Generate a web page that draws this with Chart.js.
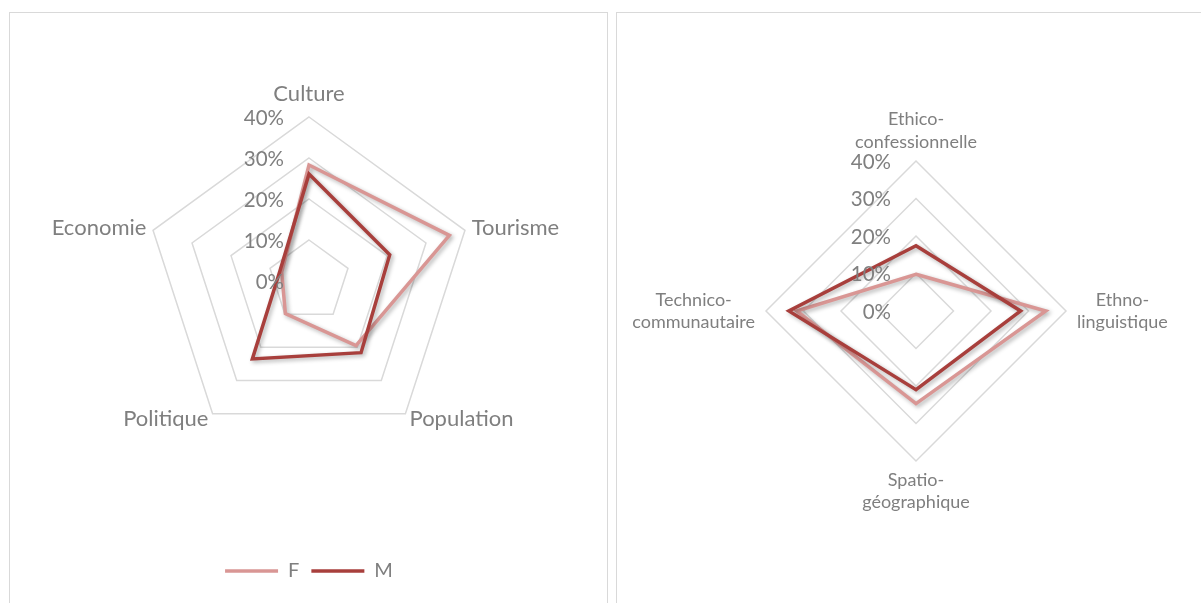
<!DOCTYPE html>
<html>
<head>
<meta charset="utf-8">
<script src="https://cdn.jsdelivr.net/npm/chart.js@4.4.0/dist/chart.umd.min.js"></script>
<style>
  html, body { margin: 0; padding: 0; background: #fff; overflow: hidden; }
  body { width: 1201px; height: 603px; position: relative; }
  .panel { position: absolute; border: 1px solid #d9d9d9; box-sizing: border-box; }
  .box { position: absolute; }
</style>
</head>
<body>
<div class="panel" style="left:9px; top:12px; width:599px; height:640px;"></div>
<div class="panel" style="left:616px; top:12px; width:640px; height:640px;"></div>
<div class="box" style="left:0; top:0; width:610px; height:603px;"><canvas id="left"></canvas></div>
<div class="box" style="left:610px; top:0; width:591px; height:603px;"><canvas id="right"></canvas></div>

<script>
// left chart: themes
const themes = ['Culture', 'Tourisme', 'Population', 'Politique', 'Economie'];
const themeF = [28.3, 36, 19.5, 9.8, 7];
const themeM = [26.1, 20.7, 21.6, 23.5, 7.5];

// right chart: dimensions (two-line labels)
const dimensions = [['Ethico-', 'confessionnelle'], ['Ethno-', 'linguistique'], ['Spatio-', 'géographique'], ['Technico-', 'communautaire']];
const dimensionF = [9.8, 34.6, 24.7, 31.8];
const dimensionM = [17.4, 27.9, 21, 33.9];

const tickValues = [0, 10, 20, 30, 40];
const seriesNames = ['F', 'M'];
const colorF = '#d99694';
const colorM = '#a83f3c';

Chart.defaults.font.family = 'Lato';
Chart.defaults.color = '#7f7f7f';

// Excel-like look: shadowed lines, tick labels left of the axis, labels beside the vertices
const excelRadar = {
  id: 'excelRadar',
  beforeDatasetDraw(chart) {
    const c = chart.ctx;
    c.save();
    c.shadowColor = 'rgba(0,0,0,0.3)';
    c.shadowBlur = 4;
    c.shadowOffsetX = 2;
    c.shadowOffsetY = 2;
  },
  afterDatasetDraw(chart) {
    chart.ctx.restore();
  },
  afterDraw(chart, args, opts) {
    const scale = chart.scales.r;
    const ctx = chart.ctx;
    ctx.save();
    ctx.fillStyle = '#7f7f7f';

    ctx.font = opts.tickFont;
    ctx.textAlign = 'right';
    ctx.textBaseline = 'middle';
    scale.ticks.forEach(t => {
      const d = scale.getDistanceFromCenterForValue(t.value);
      ctx.fillText(t.value + '%', scale.xCenter - opts.tickGap, scale.yCenter - d + 1);
    });

    ctx.font = opts.labelFont;
    ctx.textAlign = 'center';
    chart.data.labels.forEach((label, i) => {
      const lines = [].concat(label);
      const maxW = Math.max(...lines.map(l => ctx.measureText(l).width));
      const blockH = lines.length * opts.lineHeight;
      const p = scale.getPointPosition(i, scale.drawingArea);
      const dx = p.x - scale.xCenter;
      let cx, cy;
      if (Math.abs(dx) < 1) {
        const dir = p.y < scale.yCenter ? -1 : 1;
        cx = p.x;
        cy = p.y + dir * (opts.vertPad + blockH / 2);
      } else {
        const q = scale.getPointPosition(i, scale.drawingArea + opts.sidePad);
        cx = dx > 0 ? q.x + maxW / 2 : q.x - maxW / 2;
        cy = q.y;
      }
      lines.forEach((l, k) => {
        ctx.fillText(l, cx, cy - blockH / 2 + opts.lineHeight * (k + 0.5));
      });
    });
    ctx.restore();
  }
};

function makeRadar(id, labels, dataF, dataM, padding, showLegend, labelOpts) {
  return new Chart(document.getElementById(id), {
    type: 'radar',
    data: {
      labels: labels,
      datasets: [
        { label: seriesNames[0], data: dataF, borderColor: colorF, backgroundColor: colorF, borderWidth: 3.5, order: 1 },
        { label: seriesNames[1], data: dataM, borderColor: colorM, backgroundColor: colorM, borderWidth: 3.5, order: 0 }
      ]
    },
    options: {
      responsive: true,
      maintainAspectRatio: false,
      animation: false,
      layout: { padding: padding },
      elements: {
        line: { tension: 0, fill: false },
        point: { radius: 0, hoverRadius: 0 }
      },
      scales: {
        r: {
          min: tickValues[0],
          max: tickValues[tickValues.length - 1],
          ticks: { display: false, stepSize: tickValues[1] - tickValues[0] },
          grid: { color: '#d9d9d9', lineWidth: 1.5, circular: false },
          angleLines: { display: false },
          pointLabels: { display: false }
        }
      },
      plugins: {
        legend: {
          display: showLegend,
          position: 'bottom',
          labels: {
            usePointStyle: true,
            pointStyle: 'line',
            pointStyleWidth: 53,
            padding: 12,
            color: '#7f7f7f',
            font: { size: 20 },
            sort: (a, b) => a.datasetIndex - b.datasetIndex
          }
        },
        tooltip: { enabled: false },
        excelRadar: labelOpts
      }
    },
    plugins: [excelRadar]
  });
}

makeRadar('left', themes, themeF, themeM,
  { left: 145, right: 137, top: 13, bottom: 12 }, true,
  { tickFont: '20.5px Lato', tickGap: 25, labelFont: '22px Lato', lineHeight: 24, vertPad: 11, sidePad: 7 });

makeRadar('right', dimensions, dimensionF, dimensionM,
  { left: 156, right: 135, top: 161, bottom: 142 }, false,
  { tickFont: '20.5px Lato', tickGap: 25, labelFont: '18px Lato', lineHeight: 22.4, vertPad: 8, sidePad: 11 });
</script>
</body>
</html>
